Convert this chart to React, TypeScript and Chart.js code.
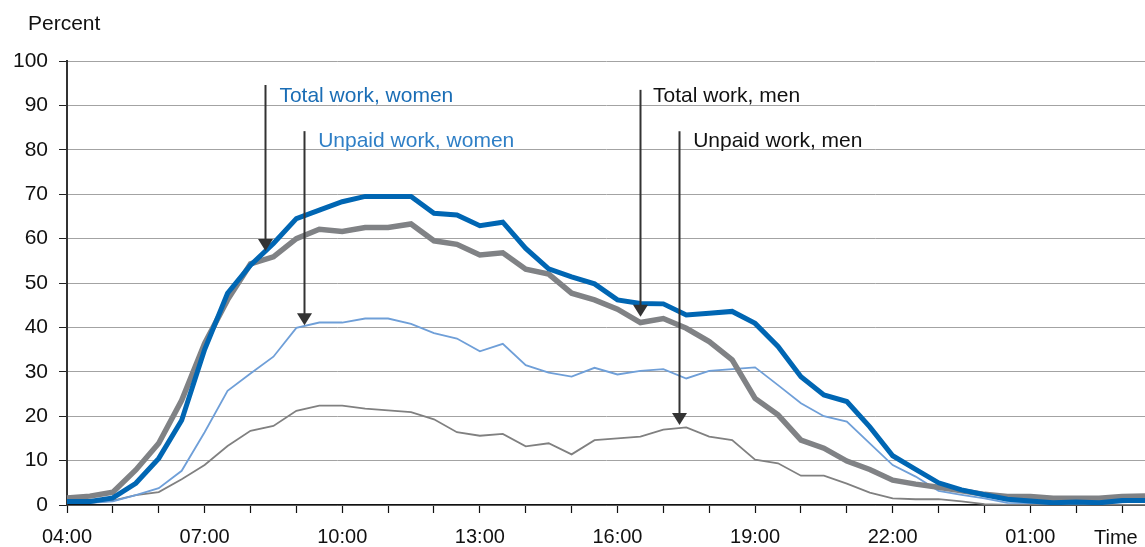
import React, { useEffect, useRef } from 'react';
import { Chart, registerables } from 'chart.js';

Chart.register(...registerables);

const timeLabels = [
  '04:00', '04:30', '05:00', '05:30', '06:00', '06:30', '07:00', '07:30',
  '08:00', '08:30', '09:00', '09:30', '10:00', '10:30', '11:00', '11:30',
  '12:00', '12:30', '13:00', '13:30', '14:00', '14:30', '15:00', '15:30',
  '16:00', '16:30', '17:00', '17:30', '18:00', '18:30', '19:00', '19:30',
  '20:00', '20:30', '21:00', '21:30', '22:00', '22:30', '23:00', '23:30',
  '00:00', '00:30', '01:00', '01:30', '02:00', '02:30', '03:00', '03:30',
];

const totalWomen = [
  0.8, 0.8, 1.6, 4.9, 10.5, 19.1, 35, 47.7, 54, 58.9, 64.5, 66.4,
  68.3, 69.5, 69.5, 69.5, 65.7, 65.3, 62.9, 63.7, 57.8, 53.2, 51.4, 49.8,
  46.2, 45.4, 45.3, 42.8, 43.2, 43.6, 40.9, 35.7, 28.9, 24.8, 23.3, 17.6,
  11.1, 8, 5, 3.4, 2.3, 1.3, 0.9, 0.5, 0.7, 0.5, 1, 1,
];

const totalMen = [
  1.6, 2, 2.9, 7.9, 13.9, 23.6, 36.4, 46.2, 54.3, 55.9, 60, 62.1,
  61.6, 62.5, 62.5, 63.3, 59.5, 58.7, 56.3, 56.8, 53.1, 52, 47.7, 46.2,
  44.1, 41.1, 42, 39.8, 36.8, 32.7, 24, 20.3, 14.6, 12.8, 9.9, 8,
  5.6, 4.7, 4, 3.2, 2.4, 1.9, 1.9, 1.5, 1.5, 1.5, 1.9, 2,
];

const unpaidWomen = [
  0.5, 0.5, 0.8, 2.2, 3.8, 7.7, 16.4, 25.7, 29.6, 33.4, 39.9, 41.1,
  41.1, 42, 42, 40.8, 38.7, 37.5, 34.6, 36.3, 31.5, 29.8, 28.9, 30.9,
  29.4, 30.2, 30.6, 28.5, 30.2, 30.6, 31, 27, 22.9, 20, 18.8, 13.9,
  9, 6.4, 3.2, 2.3, 1.5, 0.5, 0.4, 0.3, 0.4, 0.3, 0.6, 0.8,
];

const unpaidMen = [
  0.4, 0.5, 1, 2.2, 2.9, 5.8, 9, 13.3, 16.7, 17.8, 21.2, 22.4,
  22.4, 21.7, 21.3, 20.9, 19.3, 16.4, 15.6, 16, 13.2, 13.9, 11.4, 14.6,
  15, 15.4, 17, 17.5, 15.4, 14.6, 10.2, 9.4, 6.6, 6.6, 4.8, 2.8,
  1.5, 1.3, 1.3, 0.8, 0.2, 0, 0, 0, 0, 0, 0, 0,
];

const yTicks = [0, 10, 20, 30, 40, 50, 60, 70, 80, 90, 100];

// Annotation arrows (data units: x = category index, y = percent)
const annotationTexts = ['Total work, women', 'Unpaid work, women', 'Total work, men', 'Unpaid work, men'];
const arrowX = [8.63, 10.34, 24.97, 26.68];
const arrowTop = [94.6, 84.2, 93.5, 84.2];
const arrowTip = [57.2, 40.5, 42.4, 18.0];
const textX = [9.26, 10.95, 25.55, 27.3];
const textY = [92.0, 81.9, 92.0, 81.9];
const annotationColors = ['#1a6db5', '#2f7fc6', '#111111', '#111111'];

const FONT = "'Liberation Sans', Arial, Helvetica, sans-serif";

export default function App() {
  const canvasRef = useRef<HTMLCanvasElement | null>(null);

  useEffect(() => {
    document.body.style.margin = '0';
    const canvas = canvasRef.current;
    if (!canvas) return;

    const annotationPlugin = {
      id: 'arrowsAndTitles',
      afterDatasetsDraw(chart: any) {
        const ctx = chart.ctx;
        const xs = chart.scales.x;
        const ys = chart.scales.y;
        ctx.save();
        for (let i = 0; i < annotationTexts.length; i++) {
          const px = Math.round(xs.getPixelForValue(arrowX[i])) + 0.5;
          const pTop = ys.getPixelForValue(arrowTop[i]);
          const pTip = ys.getPixelForValue(arrowTip[i]);
          const headH = 12;
          const headW = 7.5;
          ctx.strokeStyle = '#333333';
          ctx.lineWidth = 2;
          ctx.beginPath();
          ctx.moveTo(px, pTop);
          ctx.lineTo(px, pTip - headH + 1);
          ctx.stroke();
          ctx.fillStyle = '#333333';
          ctx.beginPath();
          ctx.moveTo(px - headW, pTip - headH);
          ctx.lineTo(px + headW, pTip - headH);
          ctx.lineTo(px, pTip);
          ctx.closePath();
          ctx.fill();

          ctx.fillStyle = annotationColors[i];
          ctx.font = `21px ${FONT}`;
          ctx.textAlign = 'left';
          ctx.textBaseline = 'middle';
          ctx.fillText(annotationTexts[i], xs.getPixelForValue(textX[i]), ys.getPixelForValue(textY[i]));
        }
        ctx.restore();
      },
      afterDraw(chart: any) {
        const ctx = chart.ctx;
        ctx.save();
        ctx.fillStyle = '#111111';
        ctx.font = `21px ${FONT}`;
        ctx.textAlign = 'left';
        ctx.textBaseline = 'middle';
        ctx.fillText('Percent', 28, 24);
        ctx.font = `20px ${FONT}`;
        ctx.fillText('Time', 1094, 538);
        ctx.restore();
      },
    };

    const chart = new Chart(canvas, {
      type: 'line',
      data: {
        labels: timeLabels,
        datasets: [
          {
            label: 'Total work, women',
            data: totalWomen,
            borderColor: '#0066b3',
            borderWidth: 5,
            pointRadius: 0,
            tension: 0,
            fill: false,
          },
          {
            label: 'Total work, men',
            data: totalMen,
            borderColor: '#808285',
            borderWidth: 5.5,
            pointRadius: 0,
            tension: 0,
            fill: false,
          },
          {
            label: 'Unpaid work, women',
            data: unpaidWomen,
            borderColor: '#6f9fd8',
            borderWidth: 1.8,
            pointRadius: 0,
            tension: 0,
            fill: false,
          },
          {
            label: 'Unpaid work, men',
            data: unpaidMen,
            borderColor: '#808080',
            borderWidth: 1.8,
            pointRadius: 0,
            tension: 0,
            fill: false,
          },
        ],
      },
      options: {
        responsive: false,
        animation: false,
        devicePixelRatio: 1,
        layout: { autoPadding: false, padding: { top: 61, left: 0, right: 0, bottom: 0 } },
        plugins: {
          legend: { display: false },
          tooltip: { enabled: false },
          title: { display: false },
        },
        scales: {
          x: {
            type: 'category',
            offset: false,
            afterFit: (scale: any) => {
              scale.height = 42;
              scale.paddingLeft = 0;
              scale.paddingRight = 0;
            },
            grid: {
              display: true,
              drawOnChartArea: false,
              drawTicks: true,
              tickLength: 8,
              tickWidth: 1.2,
              tickColor: (c: any) => (c.index % 2 === 0 ? '#111111' : 'rgba(0,0,0,0)'),
            },
            border: { display: true, color: '#111111', width: 1.5 },
            ticks: {
              autoSkip: false,
              maxRotation: 0,
              minRotation: 0,
              padding: 12,
              color: '#111111',
              font: { family: FONT, size: 20 },
              callback: (_v: any, i: number) => (i % 6 === 0 ? timeLabels[i] : ''),
            },
          },
          y: {
            min: 0,
            max: 100,
            afterFit: (scale: any) => {
              scale.width = 67;
              scale.paddingTop = 0;
              scale.paddingBottom = 0;
            },
            afterBuildTicks: (scale: any) => {
              scale.ticks = yTicks.map((v) => ({ value: v }));
            },
            grid: {
              color: '#a3a3a3',
              lineWidth: 1,
              drawTicks: true,
              tickLength: 8,
              tickColor: '#222222',
            },
            border: { display: true, color: '#333333', width: 2 },
            ticks: {
              padding: 11,
              color: '#111111',
              font: { family: FONT, size: 21 },
            },
          },
        },
      },
      plugins: [annotationPlugin],
    });

    return () => {
      chart.destroy();
    };
  }, []);

  return (
    <div style={{ position: 'absolute', left: 0, top: 0, width: 1145, height: 547 }}>
      <canvas ref={canvasRef} width={1145} height={547} style={{ display: 'block', width: 1145, height: 547 }} />
    </div>
  );
}
